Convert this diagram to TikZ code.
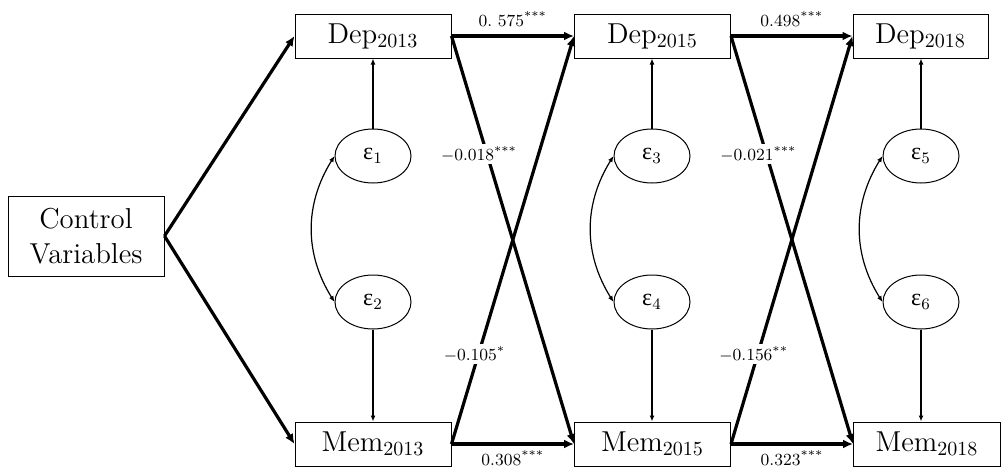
\documentclass[tikz,border=0pt]{standalone}
\usepackage{fontspec}
\newfontfamily\grk{Liberation Serif}
\usetikzlibrary{arrows.meta,shapes.geometric}

\begin{document}
\begin{tikzpicture}[x=0.5pt,y=0.5pt,
    box/.style={draw,line width=0.5pt,minimum height=22pt,inner sep=0pt,font=\fontsize{14.4}{17.5}\selectfont},
    err/.style={draw,ellipse,line width=0.5pt,minimum width=38pt,minimum height=27pt,inner sep=0pt,font=\fontsize{12}{14}\selectfont},
    effect/.style={line width=1.6pt,-{Latex[length=5pt,width=4.5pt]}},
    resid/.style={line width=0.6pt,-{Latex[length=3pt,width=2.5pt]}},
    twoway/.style={line width=0.6pt,{Latex[length=3pt,width=2.5pt]}-{Latex[length=3pt,width=2.5pt]}},
    coef/.style={font=\fontsize{8.5}{10}\selectfont,fill=white,inner sep=1pt}]
        \useasboundingbox (0,0) rectangle (1001,468);
        \node[box,align=center,minimum width=78pt,minimum height=40pt] (ctrl) at (86,232) {Control\\Variables};
        \foreach \yr/\x/\w in {2013/373/78,2015/652.5/78,2018/920.5/67.5}
          \node[box,minimum width=\w pt] (dep\yr) at (\x,432) {Dep\textsubscript{\yr}};
        \foreach \yr/\x/\w in {2013/373/78,2015/652.5/78,2018/927/73.5}
          \node[box,minimum width=\w pt] (mem\yr) at (\x,24) {Mem\textsubscript{\yr}};
        \foreach \a/\b/\x/\yr in {1/2/373/2013,3/4/652/2015,5/6/921/2018} {
          \node[err] (e\a) at (\x,312) {{\grk ε}\textsubscript{\a}};
          \node[err] (e\b) at (\x,166) {{\grk ε}\textsubscript{\b}};
          \draw[resid] (e\a) -- (e\a |- dep\yr.south);
          \draw[resid] (e\b) -- (e\b |- mem\yr.north);
          \draw[twoway] (e\a.west) to[bend right=32] (e\b.west);
        }
        % control paths
        \draw[effect] (ctrl.east) -- (dep2013.west);
        \draw[effect] (ctrl.east) -- (mem2013.west);
        % 2013 -> 2015
        \draw[effect] (dep2013.east) -- node[coef,above=3pt] {0.\ 575\textsuperscript{***}} (dep2015.west);
        \draw[effect] (mem2013.east) -- node[coef,below=1.5pt] {0.308\textsuperscript{***}} (mem2015.west);
        \draw[effect] (dep2013.east) -- node[coef,pos=0.29,xshift=-4pt] {$-$0.018\textsuperscript{***}} (mem2015.west);
        \draw[effect] (mem2013.east) -- node[coef,pos=0.22,xshift=-2pt] {$-$0.105\textsuperscript{*}} (dep2015.west);
        % 2015 -> 2018
        \draw[effect] (dep2015.east) -- node[coef,above=3pt] {0.498\textsuperscript{***}} (dep2018.west);
        \draw[effect] (mem2015.east) -- node[coef,below=1.5pt] {0.323\textsuperscript{***}} (mem2018.west);
        \draw[effect] (dep2015.east) -- node[coef,pos=0.29,xshift=-4pt] {$-$0.021\textsuperscript{***}} (mem2018.west);
        \draw[effect] (mem2015.east) -- node[coef,pos=0.22,xshift=-2pt] {$-$0.156\textsuperscript{**}} (dep2018.west);
\end{tikzpicture}
\end{document}
